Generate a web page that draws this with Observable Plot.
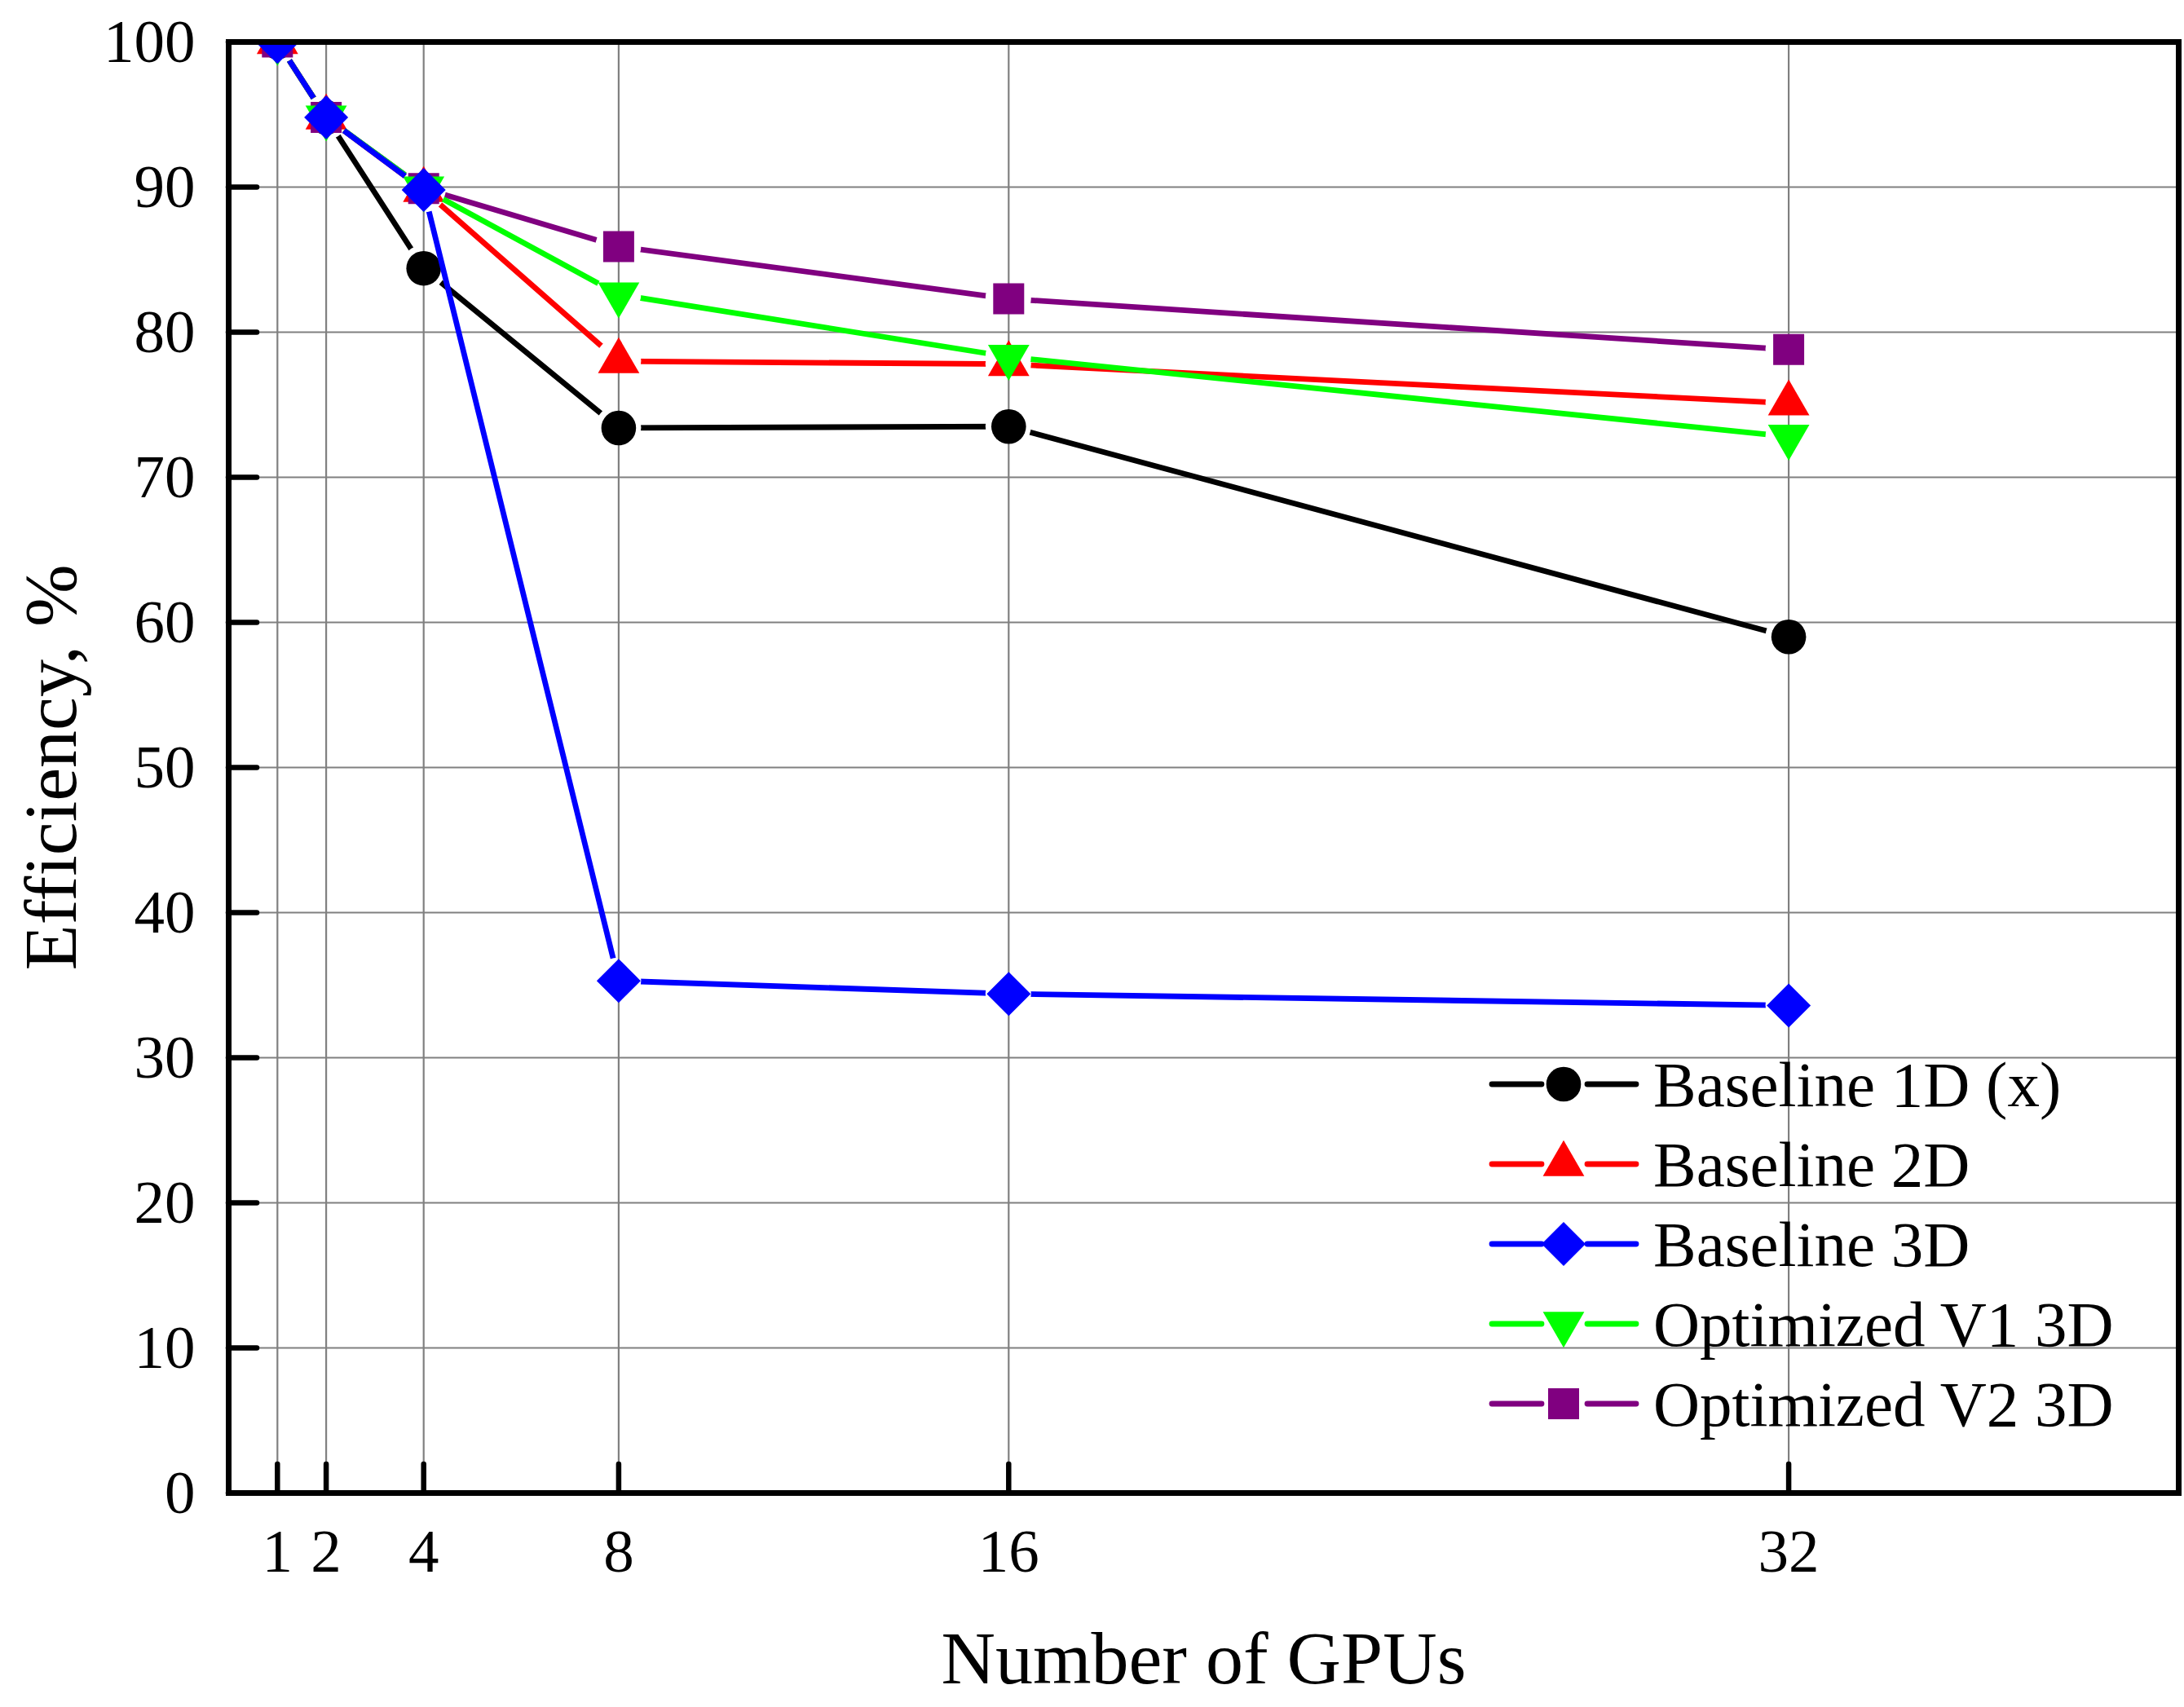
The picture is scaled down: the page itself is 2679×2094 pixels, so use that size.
<!DOCTYPE html>
<html>
<head>
<meta charset="utf-8">
<script src="https://cdn.jsdelivr.net/npm/d3@7"></script>
<script src="https://cdn.jsdelivr.net/npm/@observablehq/plot@0.6"></script>
<style>
  html, body { margin: 0; padding: 0; background: white; }
  #wrap { position: relative; width: 2679px; height: 2094px; }
  #wrap svg { display: block; }
  #legend { position: absolute; left: 0; top: 0; pointer-events: none; }
</style>
</head>
<body>
<div id="wrap"></div>
<script>
// ---- data ----
const gpus = [1, 2, 4, 8, 16, 32];
const baseline1D = [100, 94.8, 84.4, 73.4, 73.5, 59.0];
const baseline2D = [100, 94.8, 89.8, 78.0, 77.8, 75.1];
const baseline3D = [100, 94.8, 89.8, 35.3, 34.4, 33.6];
const optimizedV1 = [100, 94.8, 89.9, 82.6, 78.3, 72.8];
const optimizedV2 = [100, 94.8, 89.9, 85.9, 82.3, 78.8];
const seriesNames = ["Baseline 1D (x)", "Baseline 2D", "Baseline 3D", "Optimized V1 3D", "Optimized V2 3D"];
const xTicks = [1, 2, 4, 8, 16, 32];
const yTicks = [0, 10, 20, 30, 40, 50, 60, 70, 80, 90, 100];
const xTitle = "Number of GPUs";
const yTitle = "Efficiency, %";

// ---- symbols (half-size h = sqrt(size/π)) ----
const half = size => Math.sqrt(size / Math.PI);
const symCircle = {draw(c, s) { const h = half(s); c.moveTo(h, 0); c.arc(0, 0, h, 0, 2 * Math.PI); c.closePath(); }};
const symUp = {draw(c, s) { const h = half(s), H = Math.sqrt(3) * h; c.moveTo(0, -2 * H / 3); c.lineTo(h, H / 3); c.lineTo(-h, H / 3); c.closePath(); }};
const symDown = {draw(c, s) { const h = half(s), H = Math.sqrt(3) * h; c.moveTo(0, 2 * H / 3); c.lineTo(h, -H / 3); c.lineTo(-h, -H / 3); c.closePath(); }};
const symSquare = {draw(c, s) { const h = half(s); c.moveTo(-h, -h); c.lineTo(h, -h); c.lineTo(h, h); c.lineTo(-h, h); c.closePath(); }};
const symDiamond = {draw(c, s) { const h = half(s); c.moveTo(0, -h); c.lineTo(h, 0); c.lineTo(0, h); c.lineTo(-h, 0); c.closePath(); }};

const series = [
  {name: seriesNames[0], values: baseline1D, color: "#000000", symbol: symCircle, r: 21.3},
  {name: seriesNames[1], values: baseline2D, color: "#FF0000", symbol: symUp, r: 25.4},
  {name: seriesNames[2], values: baseline3D, color: "#0000FF", symbol: symDiamond, r: 27},
  {name: seriesNames[3], values: optimizedV1, color: "#00FF00", symbol: symDown, r: 25.4},
  {name: seriesNames[4], values: optimizedV2, color: "#800080", symbol: symSquare, r: 19}
];
// drawing order (blue on top)
const drawOrder = [0, 1, 4, 3, 2];

const rowsOf = s => gpus.map((g, i) => ({gpu: g, eff: s.values[i], name: s.name}));

const W = 2679, H = 2094;
const LW = 6.8;
const seriesMarks = [];
drawOrder.forEach(k => {
  const s = series[k];
  const rows = rowsOf(s);
  seriesMarks.push(Plot.line(rows, {x: "gpu", y: "eff", stroke: s.color, strokeWidth: LW, strokeLinecap: "round", strokeLinejoin: "round", clip: true}));
  seriesMarks.push(Plot.dot(rows, {x: "gpu", y: "eff", symbol: s.symbol, r: s.r, fill: s.color, stroke: "none", clip: true}));
});

const font = "'Liberation Serif', 'Times New Roman', serif";
const plot = Plot.plot({
  width: W, height: H,
  marginLeft: 280, marginTop: 51, marginRight: 7, marginBottom: 263,
  style: {fontFamily: font, fontSize: "74px", background: "white", color: "black"},
  x: {domain: [0, 40]},
  y: {domain: [0, 100]},
  marks: [
    Plot.gridX(xTicks, {stroke: "#808080", strokeOpacity: 1, strokeWidth: 2.2}),
    Plot.gridY(yTicks, {stroke: "#808080", strokeOpacity: 1, strokeWidth: 2.2}),
    ...seriesMarks,
    Plot.axisX(xTicks, {tickSize: -35, tickPadding: 78, strokeWidth: 6.5, strokeLinecap: "round", fontSize: 75, fill: "black", label: null, tickFormat: d => String(d)}),
    Plot.axisY(yTicks, {tickSize: -35, tickPadding: 76, strokeWidth: 6.5, strokeLinecap: "round", fontSize: 75, fill: "black", label: null, tickFormat: d => String(d)}),
    Plot.frame({stroke: "black", strokeWidth: 7}),
    Plot.text([xTitle], {text: d => d, frameAnchor: "bottom", textAnchor: "middle", dy: 233, fontSize: 92, fill: "black"}),
    Plot.text([yTitle], {text: d => d, frameAnchor: "left", textAnchor: "middle", rotate: -90, dx: -217, fontSize: 92, fill: "black"})
  ]
});
document.getElementById("wrap").appendChild(plot);

// ---- gaps in lines around each series' own markers (mask) ----
const sx = plot.scale("x"), sy = plot.scale("y");
const svg = d3.select(plot);
const defs = svg.append("defs");
const lineGroups = svg.selectAll('g[aria-label="line"]').nodes();
drawOrder.forEach((k, j) => {
  const s = series[k];
  const m = defs.append("mask").attr("id", "gap" + k).attr("maskUnits", "userSpaceOnUse")
    .attr("x", -10).attr("y", -10).attr("width", W + 20).attr("height", H + 20);
  m.append("rect").attr("x", -10).attr("y", -10).attr("width", W + 20).attr("height", H + 20).attr("fill", "white");
  gpus.forEach((g, i) => {
    m.append("circle").attr("cx", sx.apply(g)).attr("cy", sy.apply(s.values[i])).attr("r", 28).attr("fill", "black");
  });
  if (lineGroups[j]) d3.select(lineGroups[j]).attr("mask", `url(#gap${k})`);
});

// ---- legend (inside plot area, lower right) ----
const leg = d3.select("#wrap").append("svg").attr("id", "legend").attr("width", W).attr("height", H);
const rowY0 = 1330, rowStep = 98;
series.forEach((s, k) => {
  const y = rowY0 + k * rowStep;
  const g = leg.append("g");
  g.append("line").attr("x1", 1830).attr("x2", 1891).attr("y1", y).attr("y2", y)
    .attr("stroke", s.color).attr("stroke-width", LW).attr("stroke-linecap", "round");
  g.append("line").attr("x1", 1947).attr("x2", 2007).attr("y1", y).attr("y2", y)
    .attr("stroke", s.color).attr("stroke-width", LW).attr("stroke-linecap", "round");
  g.append("path").attr("transform", `translate(1918,${y})`)
    .attr("d", d3.symbol(s.symbol, Math.PI * s.r * s.r)()).attr("fill", s.color);
  g.append("text").attr("x", 2028).attr("y", y + 27).attr("font-family", font).attr("font-size", 79)
    .attr("fill", "black").text(s.name);
});
</script>
</body>
</html>
